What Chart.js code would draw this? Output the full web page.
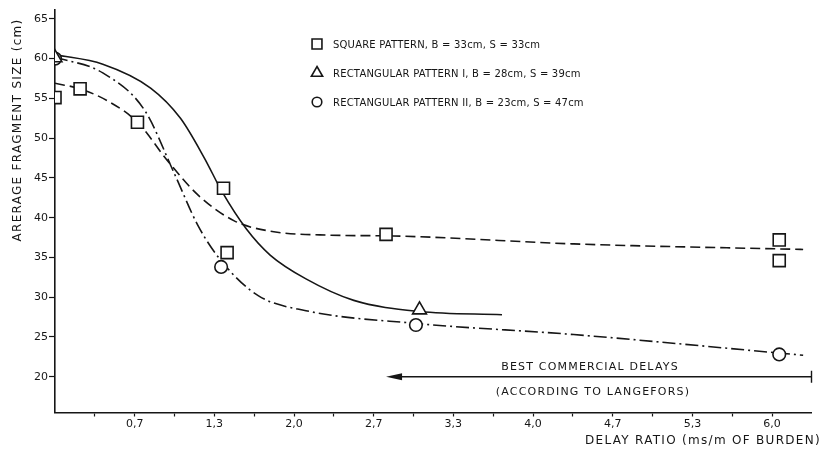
<!DOCTYPE html>
<html>
<head>
<meta charset="utf-8">
<script src="https://cdn.jsdelivr.net/npm/chart.js@4.4.1/dist/chart.umd.min.js"></script>
<style>
  html, body { margin: 0; padding: 0; background: #fff; }
</style>
</head>
<body>
<canvas id="myChart" width="822" height="459"></canvas>
<script>
// measured points: delay ratio (ms/m of burden) -> average fragment size (cm)
var squareX = [0, 0.21, 0.69, 1.41, 1.44, 2.77, 6.06, 6.06];
var squareY = [55.1, 56.2, 52.0, 43.7, 35.6, 37.9, 37.2, 34.6];
var triangleX = [0, 3.05];
var triangleY = [60.1, 28.4];
var circleX = [0, 1.39, 3.02, 6.06];
var circleY = [60.0, 33.8, 26.5, 22.8];

// hand drawn fit curves
var squareCurveX = [0, 0.21, 0.45, 0.69, 0.95, 1.2, 1.5, 1.8, 2.3, 2.83, 4.34, 6.26];
var squareCurveY = [56.9, 56.2, 54.6, 52.0, 47.0, 42.8, 39.6, 38.3, 37.8, 37.7, 36.7, 36.0];
var triangleCurveX = [0, 0.4, 0.8, 1.05, 1.25, 1.4, 1.6, 1.8, 2.1, 2.5, 3.05, 3.74];
var triangleCurveY = [60.5, 59.3, 56.3, 52.5, 47.5, 43.2, 38.6, 35.3, 32.3, 29.6, 28.2, 27.8];
var circleCurveX = [0, 0.4, 0.75, 1.0, 1.2, 1.4, 1.7, 2.1, 3.02, 4.34, 6.26];
var circleCurveY = [60.2, 58.2, 53.5, 45.5, 38.9, 34.4, 30.2, 28.3, 26.7, 25.3, 22.7];

// axes
var xTickStep = 1 / 3;
var xTickLabels = ["", "0,7", "", "1,3", "", "2,0", "", "2,7", "", "3,3", "", "4,0", "", "4,7", "", "5,3", "", "6,0"];
var yTickValues = [20, 25, 30, 35, 40, 45, 50, 55, 60, 65];

var legendLabels = [
    "SQUARE PATTERN, B = 33cm, S = 33cm",
    "RECTANGULAR PATTERN I, B = 28cm, S = 39cm",
    "RECTANGULAR PATTERN II, B = 23cm, S = 47cm"
];
var yTitle = "ARERAGE FRAGMENT SIZE (cm)";
var xTitle = "DELAY RATIO (ms/m OF BURDEN)";
var arrowFrom = 6.33, arrowTo = 2.77, arrowY = 20;
var arrowText = ["BEST COMMERCIAL DELAYS", "(ACCORDING TO LANGEFORS)"];

var ink = "#161616";
var font = '"DejaVu Sans", sans-serif';

function toPoints(xs, ys) {
    let pts = [];
    for (let i = 0; i < xs.length; i++) {
        pts.push({ x: xs[i], y: ys[i] });
    }
    return pts;
}

function curve(xs, ys, dash) {
    return {
        data: toPoints(xs, ys),
        borderColor: ink,
        borderWidth: 1.6,
        borderDash: dash,
        pointRadius: 0,
        cubicInterpolationMode: "monotone",
        fill: false,
        order: 1,
    };
}

function markers(xs, ys, style, r) {
    return {
        data: toPoints(xs, ys),
        showLine: false,
        pointStyle: style,
        pointRadius: r,
        pointBorderWidth: 1.6,
        pointBorderColor: ink,
        pointBackgroundColor: "#fff",
        order: 0,
    };
}

var markerStyles = [["rect", 8.5], ["triangle", 8], ["circle", 6.3]];

// legend, axis titles and the Langefors arrow
var extras = {
    id: "extras",
    afterDraw(chart) {
        const ctx = chart.ctx;
        const xs = chart.scales.x;
        const ys = chart.scales.y;
        ctx.save();
        ctx.fillStyle = ink;
        ctx.strokeStyle = ink;

        // y title
        ctx.save();
        ctx.font = "12px " + font;
        ctx.letterSpacing = "1.3px";
        ctx.textAlign = "center";
        ctx.textBaseline = "middle";
        ctx.translate(18, 130);
        ctx.rotate(-Math.PI / 2);
        ctx.fillText(yTitle, 0, 0);
        ctx.restore();

        // x title
        ctx.font = "12px " + font;
        ctx.letterSpacing = "1.3px";
        ctx.textAlign = "right";
        ctx.textBaseline = "middle";
        ctx.fillText(xTitle, 821, 441);

        // legend
        ctx.font = "10px " + font;
        ctx.letterSpacing = "0.2px";
        ctx.textAlign = "left";
        const rows = [44, 73, 102];
        for (let i = 0; i < legendLabels.length; i++) {
            ctx.lineWidth = 1.6;
            ctx.fillStyle = "#fff";
            Chart.helpers.drawPoint(ctx, { pointStyle: markerStyles[i][0], radius: markerStyles[i][1] - 1.5, rotation: 0, borderWidth: 1.6 }, 317, rows[i]);
            ctx.fillStyle = ink;
            ctx.fillText(legendLabels[i], 333, rows[i] + 1);
        }

        // arrow
        const x1 = xs.getPixelForValue(arrowFrom);
        const x2 = xs.getPixelForValue(arrowTo);
        const y = ys.getPixelForValue(arrowY);
        ctx.lineWidth = 1.4;
        ctx.beginPath();
        ctx.moveTo(x1, y);
        ctx.lineTo(x2 + 10, y);
        ctx.moveTo(x1, y - 6);
        ctx.lineTo(x1, y + 6);
        ctx.stroke();
        ctx.beginPath();
        ctx.moveTo(x2, y);
        ctx.lineTo(x2 + 16, y - 3.5);
        ctx.lineTo(x2 + 16, y + 3.5);
        ctx.closePath();
        ctx.fill();

        ctx.font = "11px " + font;
        ctx.letterSpacing = "1.2px";
        ctx.textAlign = "center";
        ctx.fillText(arrowText[0], 590, y - 10);
        ctx.fillText(arrowText[1], 593, y + 15);
        ctx.restore();
    },
};

var config = {
    type: "line",
    data: {
        datasets: [
            curve(squareCurveX, squareCurveY, [10, 5]),
            curve(triangleCurveX, triangleCurveY, []),
            curve(circleCurveX, circleCurveY, [13, 4, 2, 4]),
            markers(squareX, squareY, markerStyles[0][0], markerStyles[0][1]),
            markers(triangleX, triangleY, markerStyles[1][0], markerStyles[1][1]),
            markers(circleX, circleY, markerStyles[2][0], markerStyles[2][1]),
        ],
    },
    options: {
        responsive: false,
        animation: false,
        layout: { padding: { top: 2, right: 1, left: 0, bottom: 0 } },
        plugins: {
            legend: { display: false },
            tooltip: { enabled: false },
        },
        scales: {
            x: {
                type: "linear",
                min: 0,
                max: 19 / 3,
                afterBuildTicks: (scale) => {
                    scale.ticks = xTickLabels.map((l, i) => ({ value: (i + 1) * xTickStep }));
                },
                afterFit: (scale) => { scale.height = 46.5; },
                ticks: {
                    autoSkip: false,
                    maxRotation: 0,
                    padding: 1,
                    color: ink,
                    font: { family: font, size: 11 },
                    callback: (v, i) => xTickLabels[i],
                },
                grid: { drawOnChartArea: false, tickLength: 4, tickColor: ink, tickWidth: 1.2 },
                border: { color: ink, width: 1.6 },
            },
            y: {
                min: 15.5,
                max: 66.1,
                afterBuildTicks: (scale) => {
                    scale.ticks = yTickValues.map((v) => ({ value: v }));
                },
                afterFit: (scale) => { scale.width = 55; },
                ticks: {
                    padding: 1,
                    color: ink,
                    font: { family: font, size: 11 },
                },
                grid: { drawOnChartArea: false, tickLength: 6, tickColor: ink, tickWidth: 1.2 },
                border: { color: ink, width: 1.6 },
            },
        },
    },
    plugins: [extras],
};

var myChart = new Chart(document.getElementById("myChart"), config);
</script>
</body>
</html>
